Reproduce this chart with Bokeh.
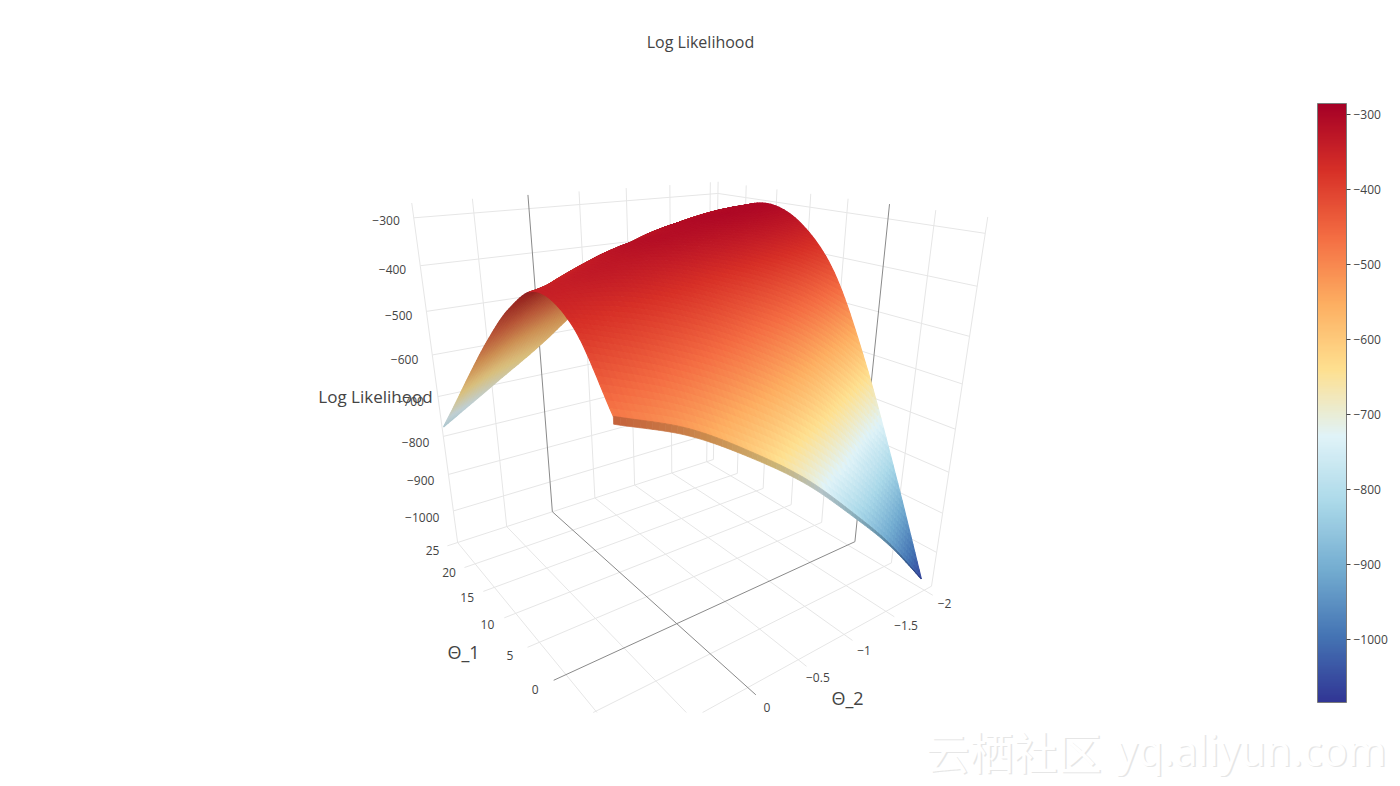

import numpy as np
from bokeh.plotting import figure
from bokeh.models import Range1d, ColumnDataSource, ColorBar, LinearColorMapper, FixedTicker, AllLabels
from bokeh.core.properties import value
from bokeh.embed import file_html
from bokeh.resources import INLINE

# ---- data ----
theta_1 = [-9.5, -5, 0, 5, 10, 15, 20, 24.5]
theta_2 = [-2, -1.5, -1, -0.5, 0, 0.5, 1]
z_t2_m20 = [-1066, -845, -615, -430, -335, -302, -325, -380]
z_t2_m15 = [-925, -722, -522, -380, -312, -306, -340, -400]
z_t2_m10 = [-805, -612, -452, -345, -304, -324, -372, -458]
z_t2_m05 = [-695, -530, -403, -322, -316, -358, -425, -530]
z_t2_00 = [-606, -465, -362, -315, -351, -420, -508, -618]
z_t2_05 = [-530, -415, -338, -345, -405, -490, -590, -695]
z_t2_10 = [-478, -375, -345, -397, -482, -580, -682, -772]
edge_drop = [0, 5, 8, 10, 11, 12, 12]   # depth of the dark rim under the front edge

z_ticks = [-300, -400, -500, -600, -700, -800, -900, -1000]
t1_ticks = [0, 5, 10, 15, 20, 25]
t2_ticks = [-2, -1.5, -1, -0.5, 0]
t2_tick_text = ["\u22122", "\u22121.5", "\u22121", "\u22120.5", "0"]
t1_grid = [-10, -5, 0, 5, 10, 15, 20, 25]
t2_grid = [-2, -1.5, -1, -0.5, 0, 0.5, 1]

stops = ["#a50026", "#d73027", "#f46d43", "#fdae61", "#fee090",
         "#e0f3f8", "#abd9e9", "#74add1", "#4575b4", "#313695"]
z_high, z_low = -285, -1084
Z_FLOOR, Z_TOP = -1090, -270
T1_LO, T1_HI, T2_LO, T2_HI = -10, 25, -2.1, 1

# ---- camera calibrated on the scene box ----
refs = np.array([
 (25,1,Z_FLOOR,457,542),(25,.5,Z_FLOOR,507,526),(25,0,Z_FLOOR,551,510),(25,-.5,Z_FLOOR,595,497),
 (25,-1,Z_FLOOR,633,484),(25,-1.5,Z_FLOOR,671,472),(25,-2,Z_FLOOR,706,461),(0,-2.1,Z_FLOOR,855,541),
 (-10,-2.1,Z_FLOOR,928,588),(10,-2.1,Z_FLOOR,792,507),(20,-2.1,Z_FLOOR,738,470),(25,-2.1,Z_FLOOR,713,460),
 (20,1,Z_FLOOR,475,564),(10,1,Z_FLOOR,514,613),(0,1,Z_FLOOR,563,675),(-5,1,Z_FLOOR,593,710),
 (-10,-1.5,Z_FLOOR,885,610),(-10,-1,Z_FLOOR,843,635),(-10,-.5,Z_FLOOR,797,660),(-10,0,Z_FLOOR,748,690),
 (-10,.5,Z_FLOOR,700,712),(25,1,Z_TOP,412,202),(25,0,Z_TOP,528,194),(25,-2,Z_TOP,709,182),
 (25,-2.1,Z_TOP,719,182),(0,-2.1,Z_TOP,888,202),(-10,-2.1,Z_TOP,985,215),(25,1,-300,413,218),
 (25,1,-500,426,312),(25,1,-700,436,398),(25,1,-1000,453,510),(-10,-2.1,-300,987,233)], float)

def unit(a, b, c):
    return np.stack([(np.asarray(a, float)+10)/35, (np.asarray(b, float)+2.1)/3.1,
                     (np.asarray(c, float)+1090)/820], -1)

rows = []
for (u, v, w), (x, y) in zip(unit(refs[:,0], refs[:,1], refs[:,2]), refs[:,3:]):
    rows.append([u,v,w,1,0,0,0,0,-x*u,-x*v,-x*w,-x])
    rows.append([0,0,0,0,u,v,w,1,-y*u,-y*v,-y*w,-y])
P = np.linalg.svd(np.array(rows))[2][-1].reshape(3,4)
if (P @ np.array([.5,.5,.5,1]))[2] < 0:
    P = -P

def project(a, b, c):
    u = unit(a, b, c)
    h = np.concatenate([u, np.ones(u.shape[:-1]+(1,))], -1) @ P.T
    return h[...,0]/h[...,2], h[...,1]/h[...,2], h[...,2]

# ---- colours ----
rgb = np.array([[int(s[i:i+2],16) for i in (1,3,5)] for s in stops], float)
def colour_of(z):
    f = np.clip((z_high-np.asarray(z))/(z_high-z_low), 0, 1)*(len(stops)-1)
    return np.stack([np.interp(f, np.arange(len(stops)), rgb[:,k]) for k in range(3)], -1)
def to_hex(c):
    return ["#%02x%02x%02x" % tuple(int(round(min(max(v,0),255))) for v in row) for row in c]
palette = to_hex(colour_of(np.linspace(z_low, z_high, 256)))

# ---- smooth the table for drawing ----
def refine(a, n, axis):
    a = np.moveaxis(np.asarray(a, float), axis, 0)
    g = np.concatenate([[2*a[0]-a[1]], a, [2*a[-1]-a[-2]]])
    out = []
    for i in range(1, len(g)-2):
        for k in range(n):
            t = k/n
            out.append(.5*(2*g[i]+(g[i+1]-g[i-1])*t+(2*g[i-1]-5*g[i]+4*g[i+1]-g[i+2])*t*t
                           +(3*g[i]-g[i-1]-3*g[i+1]+g[i+2])*t**3))
    out.append(a[-1])
    return np.moveaxis(np.array(out), 0, axis)

Z = np.array([z_t2_m20, z_t2_m15, z_t2_m10, z_t2_m05, z_t2_00, z_t2_05, z_t2_10], float)
SUB = 12
Zf = refine(refine(Z, SUB, 0), SUB, 1)
T1f = refine(np.array(theta_1, float), SUB, 0)
T2f = refine(np.array(theta_2, float), SUB, 0)
A, B = np.meshgrid(T1f, T2f)
X, Y, W = project(A, B, Zf)

def quad(a):
    return a[:-1,:-1], a[:-1,1:], a[1:,1:], a[1:,:-1]
xq = np.stack(quad(X), -1); yq = np.stack(quad(Y), -1)
area = .5*np.sum(xq*np.roll(yq,-1,-1)-np.roll(xq,-1,-1)*yq, -1)
zq = np.mean(np.stack(quad(Zf), -1), -1); wq = np.mean(np.stack(quad(W), -1), -1)
ref_sign = np.sign(area[area.shape[0]//2, area.shape[1]//4])
col = colour_of(zq)
back = np.sign(area) != ref_sign
shade = .68+.14*np.clip((-zq-400)/220, 0, 1)
col = np.where(back[...,None], col*shade[...,None]+8, col)
order = np.argsort(-wq.ravel())
src = ColumnDataSource(dict(
    xs=[np.round(xq.reshape(-1,4)[i],2).tolist() for i in order],
    ys=[np.round(yq.reshape(-1,4)[i],2).tolist() for i in order],
    c=[to_hex(col.reshape(-1,3)[[i]])[0] for i in order]))

# rim along the front edge
rim_drop = refine(np.array(edge_drop, float), SUB, 0)
ze = Zf[:,0]
x0, y0, _ = project(np.full_like(ze, theta_1[0]), T2f, ze)
x1, y1, _ = project(np.full_like(ze, theta_1[0]), T2f, ze-rim_drop)
rim = ColumnDataSource(dict(
    xs=[[x0[i],x0[i+1],x1[i+1],x1[i]] for i in range(len(ze)-1)],
    ys=[[y0[i],y0[i+1],y1[i+1],y1[i]] for i in range(len(ze)-1)],
    c=to_hex(colour_of(ze[:-1])*.8)))

# ---- figure ----
p = figure(width=1400, height=786, x_range=Range1d(0,1400), y_range=Range1d(786,0),
           x_axis_location=None, y_axis_location=None, toolbar_location=None,
           output_backend="svg", min_border=0, outline_line_color=None)
p.grid.visible = False

CLIP_Y = 712
def seg(a1,b1,c1,a2,b2,c2):
    xa,ya,_ = project(a1,b1,c1); xb,yb,_ = project(a2,b2,c2)
    if ya > CLIP_Y and yb > CLIP_Y:
        return None
    if ya > CLIP_Y:
        t=(CLIP_Y-yb)/(ya-yb); xa,ya=xb+(xa-xb)*t,CLIP_Y
    if yb > CLIP_Y:
        t=(CLIP_Y-ya)/(yb-ya); xb,yb=xa+(xb-xa)*t,CLIP_Y
    return [float(xa),float(xb)],[float(ya),float(yb)]

light, dark = [], []
for t in t1_grid:
    (dark if t==0 else light).append(seg(t,T2_LO,Z_FLOOR,t,T2_HI+.1,Z_FLOOR))
    (dark if t==0 else light).append(seg(t,T2_LO,Z_FLOOR,t,T2_LO,Z_TOP))
for t in t2_grid:
    (dark if t==0 else light).append(seg(T1_LO-1,t,Z_FLOOR,T1_HI,t,Z_FLOOR))
    (dark if t==0 else light).append(seg(T1_HI,t,Z_FLOOR,T1_HI,t,Z_TOP))
for z in z_ticks:
    light.append(seg(T1_HI,T2_HI,z,T1_HI,T2_LO,z))
    light.append(seg(T1_HI,T2_LO,z,T1_LO,T2_LO,z))
light=[s for s in light if s]; dark=[s for s in dark if s]
p.multi_line([s[0] for s in light],[s[1] for s in light],line_color="#e6e6e6",line_width=1)
p.multi_line([s[0] for s in dark],[s[1] for s in dark],line_color="#8a8a8a",line_width=1)

p.patches("xs","ys",source=src,fill_color="c",line_color="c",line_width=1.2)
p.patches("xs","ys",source=rim,fill_color="c",line_color="c",line_width=.7)

def label(x,y,t,size="12px",align="center",color="#444444",font="Open Sans"):
    p.text(x=list(x),y=list(y),text=list(t),text_font=value(font),text_font_size=size,
           text_color=color,text_align=align,text_baseline="middle")

zt = np.array(z_ticks,float)
xz,yz,_ = project(np.full(len(zt),T1_HI),np.full(len(zt),T2_HI),zt)
label(xz-14,yz+3-4*(zt+300)/700,["\u2212%d"%(-v) for v in z_ticks],align="right")
xa,ya,_ = project(np.array(t1_ticks,float),np.full(len(t1_ticks),1.27),np.full(len(t1_ticks),Z_FLOOR))
label(xa+3,ya-1,[str(v) for v in t1_ticks])
xb,yb,_ = project(np.full(len(t2_ticks),-12.8),np.array(t2_ticks,float),np.full(len(t2_ticks),Z_FLOOR))
label(xb-4,yb-1,t2_tick_text)

label([700],[41],["Log Likelihood"],size="16px")
label([375],[396],["Log Likelihood"],size="17px")
label([463],[651],["\u0398_1"],size="18px")
label([847],[697],["\u0398_2"],size="18px")

# watermark
for dx,c in ((1.5,"#e6e6e6"),(0,"#ffffff")):
    label([925+dx],[750+dx],["\u4e91\u6816\u793e\u533a"],size="44px",align="left",color=c,font="Noto Sans CJK SC")
    label([1116+dx],[749+dx],["yq.aliyun.com"],size="41.5px",align="left",color=c,font="Noto Sans")

mapper = LinearColorMapper(palette=palette, low=z_low, high=z_high)
bar = ColorBar(color_mapper=mapper, location=(1317,84), width=29, height=599, padding=0,
               ticker=FixedTicker(ticks=z_ticks),
               major_label_overrides={v:"\u2212%d"%(-v) for v in z_ticks},
               major_label_policy=AllLabels(),
               major_label_text_font="Open Sans", major_label_text_font_size="12px",
               major_label_text_color="#444444", major_tick_in=0, major_tick_out=4,
               major_tick_line_color="#444444", minor_tick_line_color=None, label_standoff=3,
               bar_line_color="#7a7a7a", bar_line_width=1, border_line_color=None,
               background_fill_alpha=0)
p.add_layout(bar)

open("out.html","w").write(file_html(p, INLINE))
